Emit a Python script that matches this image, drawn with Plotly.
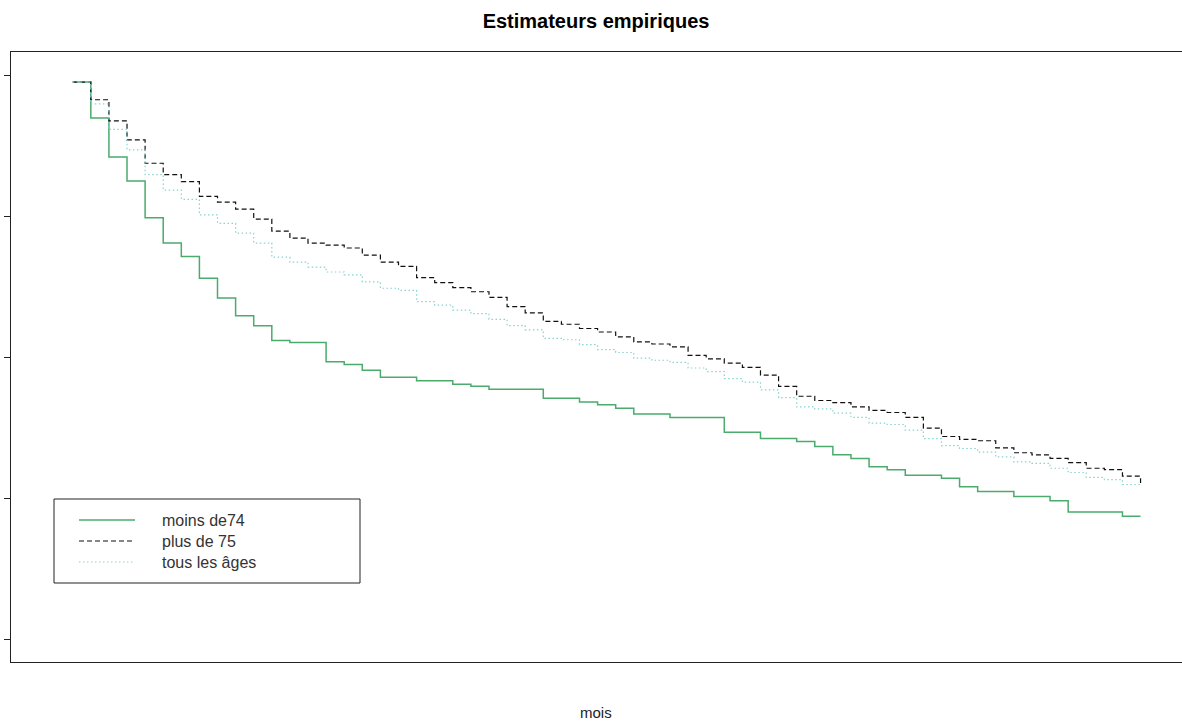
import plotly.graph_objects as go

mois = list(range(1, 61))

moins_de74 = [0.990, 0.939, 0.884, 0.850, 0.798, 0.762, 0.743, 0.712, 0.684, 0.659,
              0.645, 0.624, 0.621, 0.621, 0.594, 0.590, 0.582, 0.572, 0.572, 0.567,
              0.567, 0.562, 0.559, 0.555, 0.555, 0.555, 0.542, 0.542, 0.537, 0.533,
              0.528, 0.520, 0.520, 0.515, 0.515, 0.515, 0.494, 0.494, 0.485, 0.485,
              0.481, 0.474, 0.462, 0.457, 0.445, 0.441, 0.433, 0.433, 0.429, 0.417,
              0.410, 0.410, 0.403, 0.403, 0.397, 0.381, 0.381, 0.381, 0.375, 0.375]

plus_de75 = [0.990, 0.965, 0.935, 0.908, 0.875, 0.859, 0.849, 0.828, 0.820, 0.810,
             0.796, 0.779, 0.769, 0.762, 0.759, 0.755, 0.745, 0.735, 0.729, 0.713,
             0.706, 0.699, 0.693, 0.685, 0.672, 0.663, 0.651, 0.647, 0.641, 0.636,
             0.629, 0.622, 0.619, 0.615, 0.603, 0.598, 0.592, 0.586, 0.575, 0.559,
             0.545, 0.539, 0.536, 0.530, 0.525, 0.522, 0.515, 0.500, 0.488, 0.484,
             0.482, 0.472, 0.465, 0.462, 0.457, 0.451, 0.443, 0.441, 0.432, 0.422]

tous_ages = [0.990, 0.959, 0.923, 0.894, 0.859, 0.837, 0.824, 0.802, 0.790, 0.776,
             0.762, 0.742, 0.735, 0.728, 0.721, 0.717, 0.707, 0.698, 0.695, 0.679,
             0.674, 0.667, 0.662, 0.654, 0.645, 0.639, 0.627, 0.625, 0.618, 0.611,
             0.607, 0.599, 0.596, 0.593, 0.585, 0.580, 0.570, 0.565, 0.554, 0.543,
             0.530, 0.527, 0.521, 0.515, 0.507, 0.505, 0.497, 0.485, 0.475, 0.471,
             0.466, 0.459, 0.452, 0.450, 0.443, 0.437, 0.430, 0.427, 0.420, 0.419]

series_names = ["moins de74", "plus de 75", "tous les âges"]
series_values = [moins_de74, plus_de75, tous_ages]
y_ticks = [0.2, 0.4, 0.6, 0.8, 1.0]

FONT = "Liberation Sans, Arial, sans-serif"
styles = [
    dict(color="#4aab6c", width=1.5, dash="solid"),
    dict(color="#111111", width=1.2, dash="5px,3px"),
    dict(color="#86d4d0", width=1.2, dash="1.5px,2.5px"),
]

fig = go.Figure()
for name, vals, st in zip(series_names, series_values, styles):
    fig.add_trace(go.Scatter(x=mois, y=vals, mode="lines", name=name, showlegend=False,
                             line=dict(color=st["color"], width=st["width"],
                                       shape="hv", dash=st["dash"])))

# plot area in pixels: x 11..1182, y 52..662
def px(x):
    return (x - 11) / 1171

def py(y):
    return (662 - y) / 610

# manual legend box (R-style)
fig.add_shape(type="rect", xref="paper", yref="paper",
              x0=px(54), x1=px(360), y0=py(583), y1=py(499),
              line=dict(color="#222222", width=1), fillcolor="white", layer="above")
row_y = [520, 541, 562]
for name, st, ry in zip(series_names, styles, row_y):
    fig.add_shape(type="line", xref="paper", yref="paper",
                  x0=px(79), x1=px(135), y0=py(ry), y1=py(ry), layer="above",
                  line=dict(color=st["color"], width=st["width"], dash=st["dash"]))
    fig.add_annotation(text=name, xref="paper", yref="paper", x=px(160), y=py(ry),
                       xanchor="left", yanchor="middle", showarrow=False,
                       font=dict(family=FONT, size=16, color="#333333"))

# x-axis label
fig.add_annotation(text="mois", xref="paper", yref="paper", x=px(596), y=py(702),
                   xanchor="center", yanchor="top", showarrow=False,
                   font=dict(family=FONT, size=15, color="#222222"))

fig.update_layout(
    width=1182, height=724,
    margin=dict(l=11, r=0, t=52, b=62),
    paper_bgcolor="white", plot_bgcolor="white",
    font=dict(family=FONT, size=15, color="#222222"),
    title=dict(text="<b>Estimateurs empiriques</b>", x=596 / 1182, xanchor="center",
               y=1 - 21 / 724, yanchor="middle", yref="container",
               font=dict(family=FONT, size=20, color="#000000")),
    showlegend=False,
    xaxis=dict(range=[-2.41, 62.29], showgrid=False, zeroline=False,
               showline=True, linecolor="#222222", linewidth=1, mirror=True,
               ticks="", showticklabels=False, automargin=False),
    yaxis=dict(range=[0.1686, 1.0326], showgrid=False, zeroline=False,
               showline=True, linecolor="#222222", linewidth=1, mirror=False,
               tickmode="array", tickvals=y_ticks, ticks="outside", ticklen=6,
               tickcolor="#222222", showticklabels=False, automargin=False),
)

fig.write_html("out.html")
